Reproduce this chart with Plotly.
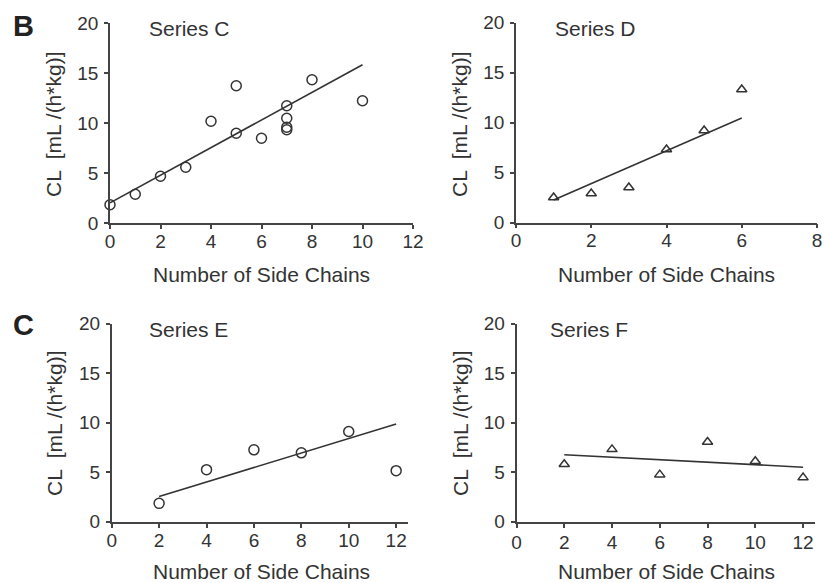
import plotly.graph_objects as go

# ---- data ----
c_x = [0, 1, 2, 3, 4, 5, 5, 6, 7, 7, 7, 7, 8, 10]
c_y = [1.85, 2.9, 4.7, 5.6, 10.2, 13.75, 9.0, 8.5, 11.75, 10.5, 9.6, 9.35, 14.35, 12.25]
c_fit_x = [0, 10]
c_fit_y = [2.05, 15.85]

d_x = [1, 2, 3, 4, 5, 6]
d_y = [2.5, 2.9, 3.5, 7.3, 9.2, 13.3]
d_fit_x = [1, 6]
d_fit_y = [2.25, 10.45]

e_x = [2, 4, 6, 8, 10, 12]
e_y = [1.85, 5.25, 7.25, 6.95, 9.1, 5.15]
e_fit_x = [2, 12]
e_fit_y = [2.55, 9.85]

f_x = [2, 4, 6, 8, 10, 12]
f_y = [5.8, 7.3, 4.75, 8.05, 6.1, 4.45]
f_fit_x = [2, 12]
f_fit_y = [6.75, 5.5]

y_ticks = [0, 5, 10, 15, 20]
x_ticks_c = [0, 2, 4, 6, 8, 10, 12]
x_ticks_d = [0, 2, 4, 6, 8]
x_ticks_ef = [0, 2, 4, 6, 8, 10, 12]

x_title = "Number of Side Chains"
y_title = "CL  [mL /(h*kg)]"
series_names = ["Series C", "Series D", "Series E", "Series F"]
panel_letters = ["B", "C"]

OFF = 0  # page body margin removed below via post_script
W, H = 824, 583
INK = "#333333"
FONT = "Liberation Sans, Arial, sans-serif"

fig = go.Figure()

panels = [
    # (xs, ys, fitx, fity, symbol, xaxis, yaxis, xrange, xticks)
    (c_x, c_y, c_fit_x, c_fit_y, "circle-open", "x", "y", [0, 12], x_ticks_c),
    (d_x, d_y, d_fit_x, d_fit_y, "triangle-up-open", "x2", "y2", [0, 8], x_ticks_d),
    (e_x, e_y, e_fit_x, e_fit_y, "circle-open", "x3", "y3", [0, 12.5], x_ticks_ef),
    (f_x, f_y, f_fit_x, f_fit_y, "triangle-up-open", "x4", "y4", [0, 12.5], x_ticks_ef),
]

for xs, ys, fx, fy, sym, xa, ya, xr, xt in panels:
    fig.add_trace(go.Scatter(x=fx, y=fy, mode="lines", xaxis=xa, yaxis=ya,
                             line=dict(color=INK, width=1.6), showlegend=False,
                             hoverinfo="skip", cliponaxis=False))
    fig.add_trace(go.Scatter(x=xs, y=ys, mode="markers", xaxis=xa, yaxis=ya,
                             marker=dict(symbol=sym, size=10 if sym.startswith("circle") else 9,
                                         color=INK, line=dict(color=INK, width=1.5)),
                             showlegend=False, cliponaxis=False))

# window-pixel geometry -> paper fractions
def fx_(px):
    return (px - OFF) / W

def fy_(py):
    return 1 - (py - OFF) / H

def xd(a, b):
    return [fx_(a), fx_(b)]

def yd(top, bottom):
    return [fy_(bottom), fy_(top)]

domains = {
    "": (xd(110, 413), yd(23.3, 223.3)),
    "2": (xd(516, 817), yd(22.5, 222.5)),
    "3": (xd(111.7, 408), yd(323.5, 521.7)),
    "4": (xd(516.5, 815), yd(323.5, 521.7)),
}

axis_common = dict(showline=True, linecolor="#444444", linewidth=1.6, ticks="outside",
                   ticklen=4, tickwidth=1.5, tickcolor="#444444", showgrid=False,
                   zeroline=False, automargin=False,
                   tickfont=dict(family=FONT, size=19, color=INK))

layout = dict(template="none", width=W, height=H, margin=dict(l=0, r=0, t=0, b=0, pad=0),
              paper_bgcolor="white", plot_bgcolor="white", showlegend=False,
              font=dict(family=FONT, color=INK))

x_standoffs = {"": -4, "2": -4, "3": -3, "4": -1}
for (key, (xdom, ydom)), p in zip(domains.items(), panels):
    xr, xt = p[7], p[8]
    layout["xaxis" + key] = dict(domain=xdom, range=xr, tickvals=xt, anchor="y" + key,
                                 ticklabelstandoff=x_standoffs[key], **axis_common)
    layout["yaxis" + key] = dict(domain=ydom, range=[0, 20], tickvals=y_ticks, anchor="x" + key,
                                 ticklabelstandoff=2, **axis_common)

fig.update_layout(**layout)

ann = []
# series labels
for name, (px, py) in zip(series_names, [(147, 28.3), (553, 28.3), (147, 329), (548, 329)]):
    ann.append(dict(text=name, x=fx_(px), y=fy_(py), xref="paper", yref="paper",
                    xanchor="left", yanchor="middle", showarrow=False,
                    font=dict(family=FONT, size=21, color=INK)))
# x titles
for (cx, cy) in [(261.5, 274), (666, 274), (261, 571), (666, 571)]:
    ann.append(dict(text=x_title, x=fx_(cx), y=fy_(cy), xref="paper", yref="paper",
                    xanchor="center", yanchor="middle", showarrow=False,
                    font=dict(family=FONT, size=21, color=INK)))
# y titles
for (cx, cy) in [(54, 125), (460, 125), (54, 424), (460, 424)]:
    ann.append(dict(text=y_title, x=fx_(cx), y=fy_(cy), xref="paper", yref="paper",
                    xanchor="center", yanchor="middle", showarrow=False, textangle=-90,
                    font=dict(family=FONT, size=21, color=INK)))
# panel letters
for letter, (cx, cy) in zip(panel_letters, [(23, 25.5), (23, 325)]):
    ann.append(dict(text="<b>" + letter + "</b>", x=fx_(cx), y=fy_(cy), xref="paper",
                    yref="paper", xanchor="center", yanchor="middle", showarrow=False,
                    font=dict(family=FONT, size=29, color="#222222")))

fig.update_layout(annotations=ann)
fig.write_html("out.html", config={"displayModeBar": False},
               post_script="document.body.style.margin='0';document.body.style.overflow='hidden';")
